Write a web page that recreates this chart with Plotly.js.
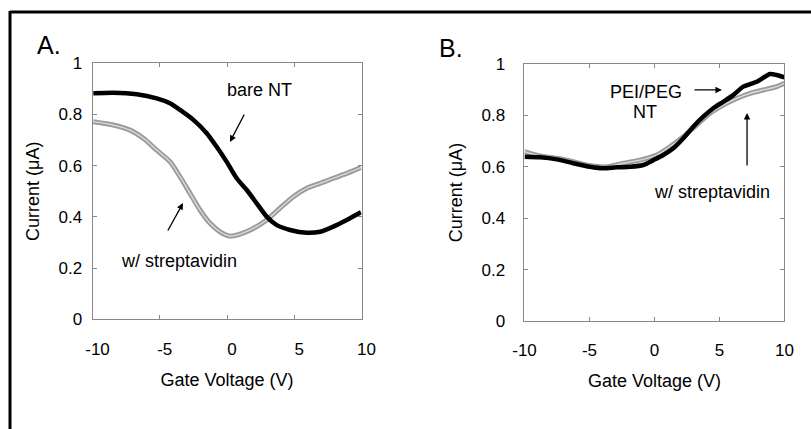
<!DOCTYPE html>
<html>
<head>
<meta charset="utf-8">
<script src="https://cdn.plot.ly/plotly-3.0.1.min.js"></script>
<style>html,body{margin:0;padding:0;background:#fff;}#chart{width:811px;height:429px;}</style>
</head>
<body>
<div id="chart"></div>
<script>
// Panel A: bare NT
const aBareX = [-9.94, -8.45, -6.71, -5.23, -4.24, -3.49, -2.50, -1.51, -0.77, -0.02, 0.72, 1.47, 2.21, 2.95, 3.70, 4.69, 5.93, 6.92, 7.90, 8.90, 9.96];
const aBareY = [0.883, 0.885, 0.879, 0.863, 0.844, 0.818, 0.779, 0.727, 0.674, 0.615, 0.551, 0.505, 0.453, 0.401, 0.368, 0.349, 0.338, 0.342, 0.362, 0.388, 0.418];
// Panel A: with streptavidin
const aStrepX = [-9.94, -8.45, -7.21, -6.22, -5.23, -4.24, -3.49, -2.75, -2.01, -1.26, -0.52, 0.22, 0.97, 1.96, 2.95, 3.94, 4.93, 5.93, 6.91, 7.90, 8.90, 9.96];
const aStrepY = [0.772, 0.759, 0.739, 0.707, 0.661, 0.616, 0.557, 0.492, 0.427, 0.375, 0.342, 0.325, 0.333, 0.355, 0.388, 0.434, 0.479, 0.512, 0.531, 0.551, 0.570, 0.593];
// Panel B: PEI/PEG NT
const bPegX = [-10.0, -8.81, -7.52, -6.25, -4.96, -3.94, -2.91, -1.88, -0.86, -0.09, 0.68, 1.45, 2.22, 2.98, 3.75, 4.52, 5.29, 6.06, 6.83, 7.86, 8.88, 9.40, 10.0];
const bPegY = [0.639, 0.637, 0.629, 0.614, 0.600, 0.594, 0.598, 0.600, 0.607, 0.626, 0.646, 0.672, 0.711, 0.756, 0.795, 0.828, 0.853, 0.879, 0.912, 0.931, 0.961, 0.957, 0.948];
// Panel B: with streptavidin
const bStrepX = [-10.0, -8.81, -7.52, -6.25, -4.96, -3.68, -2.40, -1.12, 0.17, 1.19, 2.22, 3.25, 4.27, 5.29, 6.32, 7.35, 8.37, 9.40, 10.0];
const bStrepY = [0.659, 0.642, 0.633, 0.620, 0.604, 0.600, 0.614, 0.626, 0.646, 0.678, 0.717, 0.763, 0.808, 0.840, 0.866, 0.886, 0.899, 0.912, 0.925];

const xTickVals = [-10, -5, 0, 5, 10];
const xTickText = ["-10", "-5", "0", "5", "10"];
const yTickVals = [0, 0.2, 0.4, 0.6, 0.8, 1];
const yTickText = ["0", "0.2", "0.4", "0.6", "0.8", "1"];

const FONT = "Liberation Sans, Arial, Helvetica, sans-serif";
const GREY = "#9b9b9b";

function greyTraces(x, y, xa, ya, name) {
  return [
    {x: x, y: y, xaxis: xa, yaxis: ya, type: "scatter", mode: "lines", name: name,
     line: {color: GREY, width: 5, shape: "spline", smoothing: 0.6}, hoverinfo: "skip"},
    {x: x, y: y, xaxis: xa, yaxis: ya, type: "scatter", mode: "lines", name: name + " (inner)",
     line: {color: "#dcdcdc", width: 1.3, shape: "spline", smoothing: 0.6}, hoverinfo: "skip"}
  ];
}

const data = [].concat(
  greyTraces(aStrepX, aStrepY, "x", "y", "w/ streptavidin"),
  [{x: aBareX, y: aBareY, xaxis: "x", yaxis: "y", type: "scatter", mode: "lines", name: "bare NT",
    line: {color: "#000", width: 4.5, shape: "spline", smoothing: 0.6}}],
  greyTraces(bStrepX, bStrepY, "x2", "y2", "w/ streptavidin (B)"),
  [{x: bPegX, y: bPegY, xaxis: "x2", yaxis: "y2", type: "scatter", mode: "lines", name: "PEI/PEG NT",
    line: {color: "#000", width: 4.5, shape: "spline", smoothing: 0.6}}]
);

function xAxis(domain, anchor, shift) {
  return {
    domain: domain, anchor: anchor, range: [-10, 10],
    tickvals: xTickVals, ticktext: xTickText,
    ticks: "inside", ticklen: 4, tickwidth: 1, tickcolor: "#888",
    showline: true, linecolor: "#888", linewidth: 1, mirror: "ticks",
    showgrid: false, zeroline: false,
    tickfont: {family: FONT, size: 17, color: "#000"},
    ticklabelstandoff: 14, ticklabelshift: shift,
    title: {text: "Gate Voltage (V)", font: {family: FONT, size: 18, color: "#000"}, standoff: 15},
    fixedrange: true
  };
}
function yAxis(domain, anchor, standoff, titleStandoff) {
  return {
    domain: domain, anchor: anchor, range: [0, 1],
    tickvals: yTickVals, ticktext: yTickText,
    ticks: "inside", ticklen: 4, tickwidth: 1, tickcolor: "#888",
    showline: true, linecolor: "#888", linewidth: 1, mirror: "ticks",
    showgrid: false, zeroline: false,
    tickfont: {family: FONT, size: 17, color: "#000"},
    ticklabelstandoff: standoff,
    title: {text: "Current (\u03bcA)", font: {family: FONT, size: 18, color: "#000"}, standoff: titleStandoff},
    fixedrange: true
  };
}

const annFont = {family: FONT, size: 18, color: "#000"};
const arrow = {showarrow: true, arrowhead: 2, arrowsize: 1, arrowwidth: 1.3, arrowcolor: "#000", text: ""};

const layout = {
  width: 811, height: 429,
  margin: {l: 0, r: 0, t: 0, b: 0},
  paper_bgcolor: "#fff", plot_bgcolor: "#fff",
  showlegend: false,
  xaxis: xAxis([0.11406, 0.44575], "y", 5),
  yaxis: yAxis([0.2557, 0.8524], "x", 6, 14),
  xaxis2: xAxis([0.64673, 0.96732], "y2", 0),
  yaxis2: yAxis([0.25175, 0.85082], "x2", 15, 14),
  shapes: [
    {type: "line", xref: "paper", yref: "paper", x0: 10/811, x1: 1.01, y0: (429-12)/429, y1: (429-12)/429, line: {color: "#000", width: 3}},
    {type: "line", xref: "paper", yref: "paper", x0: 10/811, x1: 10/811, y0: -0.01, y1: (429-11)/429, line: {color: "#000", width: 3}}
  ],
  annotations: [
    {xref: "paper", yref: "paper", x: 0.061, y: 0.895, xanchor: "center", yanchor: "middle", text: "A.", showarrow: false, font: {family: FONT, size: 25, color: "#000"}},
    {xref: "paper", yref: "paper", x: 0.5555, y: 0.888, xanchor: "center", yanchor: "middle", text: "B.", showarrow: false, font: {family: FONT, size: 25, color: "#000"}},
    {xref: "x", yref: "y", x: 2.45, y: 0.896, text: "bare NT", showarrow: false, font: annFont},
    {xref: "x", yref: "y", x: -3.57, y: 0.228, text: "w/ streptavidin", showarrow: false, font: annFont},
    Object.assign({xref: "x", yref: "y", axref: "x", ayref: "y", x: 0.22, y: 0.693, ax: 1.34, ay: 0.806}, arrow),
    Object.assign({xref: "x", yref: "y", axref: "x", ayref: "y", x: -3.27, y: 0.454, ax: -4.46, ay: 0.341}, arrow),
    {xref: "x2", yref: "y2", x: -0.65, y: 0.891, text: "PEI/PEG", showarrow: false, font: annFont},
    {xref: "x2", yref: "y2", x: -0.73, y: 0.813, text: "NT", showarrow: false, font: annFont},
    {xref: "x2", yref: "y2", x: 4.46, y: 0.502, text: "w/ streptavidin", showarrow: false, font: annFont},
    Object.assign({xref: "x2", yref: "y2", axref: "x2", ayref: "y2", x: 5.19, y: 0.899, ax: 2.96, ay: 0.899}, arrow),
    Object.assign({xref: "x2", yref: "y2", axref: "x2", ayref: "y2", x: 7.12, y: 0.809, ax: 7.12, ay: 0.599}, arrow)
  ]
};

Plotly.newPlot("chart", data, layout, {displayModeBar: false, staticPlot: true});
</script>
</body>
</html>
